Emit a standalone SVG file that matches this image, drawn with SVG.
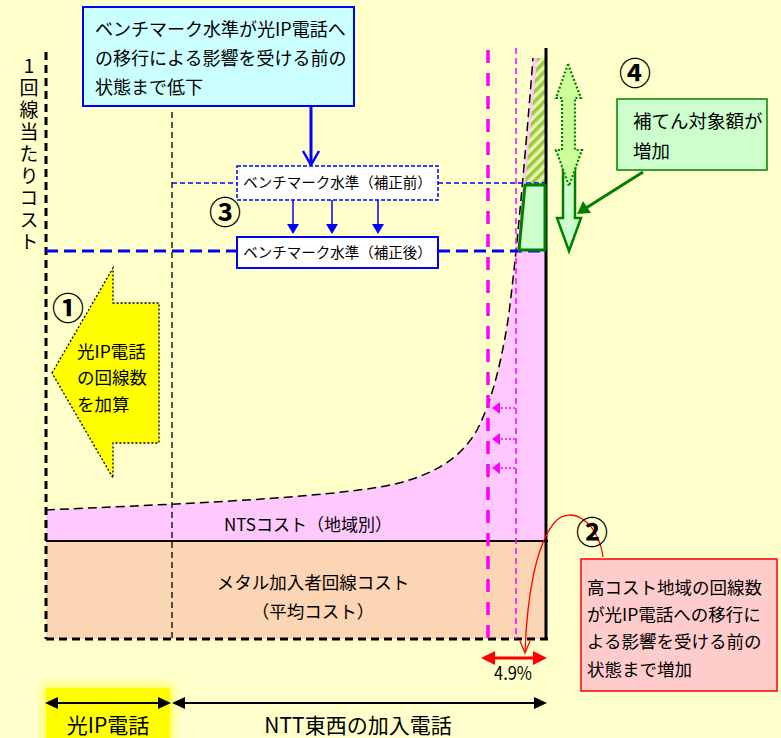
<svg xmlns="http://www.w3.org/2000/svg" width="781" height="738" viewBox="0 0 781 738">
<defs>
<style>
text{font-family:"Noto Sans CJK JP","Noto Sans",sans-serif;fill:#000}
.t18{font-size:18px}
.t17{font-size:17.5px}
.t14{font-size:14.5px}
.num{font-size:32px;font-weight:bold}
.blue{stroke:#0000FF;fill:none}
.mag{stroke:#FF00FF;fill:none}
</style>
<pattern id="hatch" width="7" height="7" patternUnits="userSpaceOnUse" patternTransform="rotate(-45)">
<rect width="7" height="7" fill="#E8F2B8"/>
<rect width="7" height="3.5" fill="#99CC33"/>
</pattern>
<filter id="glow" x="-20%" y="-20%" width="140%" height="140%">
<feGaussianBlur stdDeviation="4"/>
</filter>
</defs>
<rect width="781" height="738" fill="#FFFFCC"/>

<g id="cost-areas">
<path d="M46,541 L46,510 C150,505 300,500 380,487 C430,478 460,460 477,430 C490,405 500,370 508,320 C515,270 525,160 533,58 L546,58 L546,541 Z" fill="#FFC8FF"/>
<rect x="46" y="541" width="500" height="98" fill="#FCD5B4"/>
<polygon points="537,58 545,58 545,185 525,185" fill="url(#hatch)"/>
</g>

<g id="connectors">
<line x1="46" y1="52" x2="46" y2="639" stroke="#000" stroke-width="3" stroke-dasharray="8 5"/>
<line x1="46" y1="639" x2="548" y2="639" stroke="#000" stroke-width="3" stroke-dasharray="8 5"/>
<line x1="172" y1="112" x2="172" y2="639" stroke="#000" stroke-width="1.3" stroke-dasharray="6 4"/>
<line x1="546" y1="48" x2="546" y2="640" stroke="#000" stroke-width="3"/>
<line x1="46" y1="541" x2="548" y2="541" stroke="#000" stroke-width="2"/>
<path d="M46,510 C150,505 300,500 380,487 C430,478 460,460 477,430 C490,405 500,370 508,320 C515,270 525,160 533,58" fill="none" stroke="#000" stroke-width="1.5" stroke-dasharray="9 5"/>
<line x1="488" y1="50" x2="488" y2="639" class="mag" stroke-width="3.5" stroke-dasharray="13 10"/>
<line x1="516" y1="48" x2="516" y2="639" class="mag" stroke-width="1.5" stroke-dasharray="6 4"/>
<g stroke="#FF00FF" stroke-width="1.5" stroke-dasharray="2 2" fill="none">
<line x1="515" y1="408" x2="498" y2="408"/>
<line x1="515" y1="439" x2="498" y2="439"/>
<line x1="515" y1="468" x2="498" y2="468"/>
</g>
<g fill="#FF00FF">
<polygon points="492,408 500,402 500,414"/>
<polygon points="492,439 500,433 500,445"/>
<polygon points="492,468 500,462 500,474"/>
</g>
<line x1="172" y1="183" x2="237" y2="183" class="blue" stroke-width="1.5" stroke-dasharray="5 3"/>
<line x1="438" y1="183" x2="545" y2="183" class="blue" stroke-width="1.5" stroke-dasharray="5 3"/>
<line x1="46" y1="251" x2="237" y2="251" class="blue" stroke-width="3" stroke-dasharray="12 6"/>
<line x1="438" y1="251" x2="546" y2="251" class="blue" stroke-width="3" stroke-dasharray="12 6"/>
<line x1="311" y1="106" x2="311" y2="163" class="blue" stroke-width="3"/>
<polyline points="303,151 311,165 319,151" class="blue" stroke-width="2.5"/>
<g class="blue" stroke-width="1.5">
<line x1="293" y1="200" x2="293" y2="226"/>
<line x1="332" y1="200" x2="332" y2="226"/>
<line x1="378" y1="200" x2="378" y2="226"/>
</g>
<g fill="#0000FF">
<polygon points="287,224 299,224 293,234"/>
<polygon points="326,224 338,224 332,234"/>
<polygon points="372,224 384,224 378,234"/>
</g>
<line x1="643" y1="172" x2="586" y2="208" stroke="#008000" stroke-width="3"/>
<polygon points="577,214 583,201 591,213" fill="#008000"/>
<path d="M603,557 C598,520 570,505 555,522 C535,545 527,600 525,652" fill="none" stroke="#FF0000" stroke-width="1.3"/>
<polyline points="520,641 525,653 530,641" fill="none" stroke="#FF0000" stroke-width="1.3"/>
<line x1="492" y1="658" x2="536" y2="658" stroke="#FF0000" stroke-width="3"/>
<polygon points="481,658 495,651 495,665" fill="#FF0000"/>
<polygon points="547,658 533,651 533,665" fill="#FF0000"/>
</g>

<g id="green-increase">
<polygon points="525,185 545,185 545,250 519,250" fill="#CCFFCC" stroke="#008000" stroke-width="3" stroke-linejoin="round"/>
</g>

<g id="arrow4">
<polygon points="563,160 575,160 575,218 581,218 569,251 557,218 563,218" fill="#CCFFCC" stroke="#008000" stroke-width="2.5"/>
<polygon points="568,64 581,98 575,98 575,150 582,150 569,186 556,150 562,150 562,98 556,98" fill="#CCFF99" stroke="#008000" stroke-width="2.2" stroke-dasharray="2 2"/>
<text x="635" y="85" class="num" text-anchor="middle">④</text>
</g>

<g id="box-top">
<rect x="83" y="7" width="271" height="99" fill="#CCFFFF" stroke="#0000FF" stroke-width="2"/>
<text class="t18" x="95" y="36">ベンチマーク水準が光IP電話へ</text>
<text class="t18" x="95" y="65">の移行による影響を受ける前の</text>
<text class="t18" x="95" y="94">状態まで低下</text>
</g>

<g id="bench-before">
<rect x="237" y="166" width="201" height="34" fill="#FFFFFF" stroke="#0000FF" stroke-width="1.5" stroke-dasharray="4 2"/>
<text class="t14" x="337.5" y="188" text-anchor="middle">ベンチマーク水準（補正前）</text>
</g>

<g id="bench-after">
<rect x="237" y="237" width="201" height="31" fill="#FFFFFF" stroke="#0000FF" stroke-width="2"/>
<text class="t14" x="337.5" y="258" text-anchor="middle">ベンチマーク水準（補正後）</text>
</g>

<g id="label3">
<text x="225" y="224" class="num" text-anchor="middle">③</text>
</g>

<g id="arrow1">
<polygon points="52,373 113,268 113,303 159,303 159,443 113,443 113,478" fill="#FFFF00" stroke="#000" stroke-width="1.3" stroke-dasharray="2 2"/>
<text x="68" y="320" class="num" text-anchor="middle">①</text>
<text class="t17" x="77" y="358">光IP電話</text>
<text class="t17" x="77" y="384">の回線数</text>
<text class="t17" x="77" y="411">を加算</text>
</g>

<g id="axis-label">
<text x="29" y="56" style="font-size:19px;writing-mode:vertical-rl;text-orientation:upright;letter-spacing:3px">1回線当たりコスト</text>
</g>

<g id="nts-label">
<text x="308" y="531" text-anchor="middle" style="font-size:17px">NTSコスト（地域別）</text>
</g>

<g id="metal-label">
<text class="t17" x="313" y="589" text-anchor="middle">メタル加入者回線コスト</text>
<text class="t17" x="313" y="618" text-anchor="middle">（平均コスト）</text>
</g>

<g id="box-green">
<rect x="617" y="99" width="150" height="71" fill="#CCFFCC" stroke="#008000" stroke-width="1.5"/>
<text x="633" y="128" style="font-size:18.5px">補てん対象額が</text>
<text x="633" y="158" style="font-size:18.5px">増加</text>
</g>

<g id="box-red">
<text x="592" y="544" class="num" text-anchor="middle">②</text>
<rect x="581" y="559" width="196" height="132" fill="#FFCCCC" stroke="#FF0000" stroke-width="1.5"/>
<text class="t17" x="587" y="594">高コスト地域の回線数</text>
<text class="t17" x="587" y="621">が光IP電話への移行に</text>
<text class="t17" x="587" y="648">よる影響を受ける前の</text>
<text class="t17" x="587" y="676">状態まで増加</text>
</g>

<g id="pct">
<text x="513" y="680" text-anchor="middle" style="font-size:19px" textLength="38" lengthAdjust="spacingAndGlyphs">4.9%</text>
</g>

<g id="bottom-hikari">
<rect x="42" y="684" width="132" height="60" fill="#FFFF66" filter="url(#glow)"/>
<rect x="46" y="688" width="124" height="50" fill="#FFFF00"/>
<line x1="56" y1="703" x2="160" y2="703" stroke="#000" stroke-width="2"/>
<polygon points="45,703 58,697 58,709" fill="#000"/>
<polygon points="171,703 158,697 158,709" fill="#000"/>
<text x="108" y="733" text-anchor="middle" style="font-size:21px">光IP電話</text>
</g>

<g id="bottom-ntt">
<line x1="183" y1="703" x2="536" y2="703" stroke="#000" stroke-width="2"/>
<polygon points="172,703 185,697 185,709" fill="#000"/>
<polygon points="547,703 534,697 534,709" fill="#000"/>
<text x="358" y="733" text-anchor="middle" style="font-size:21px">NTT東西の加入電話</text>
</g>
</svg>
